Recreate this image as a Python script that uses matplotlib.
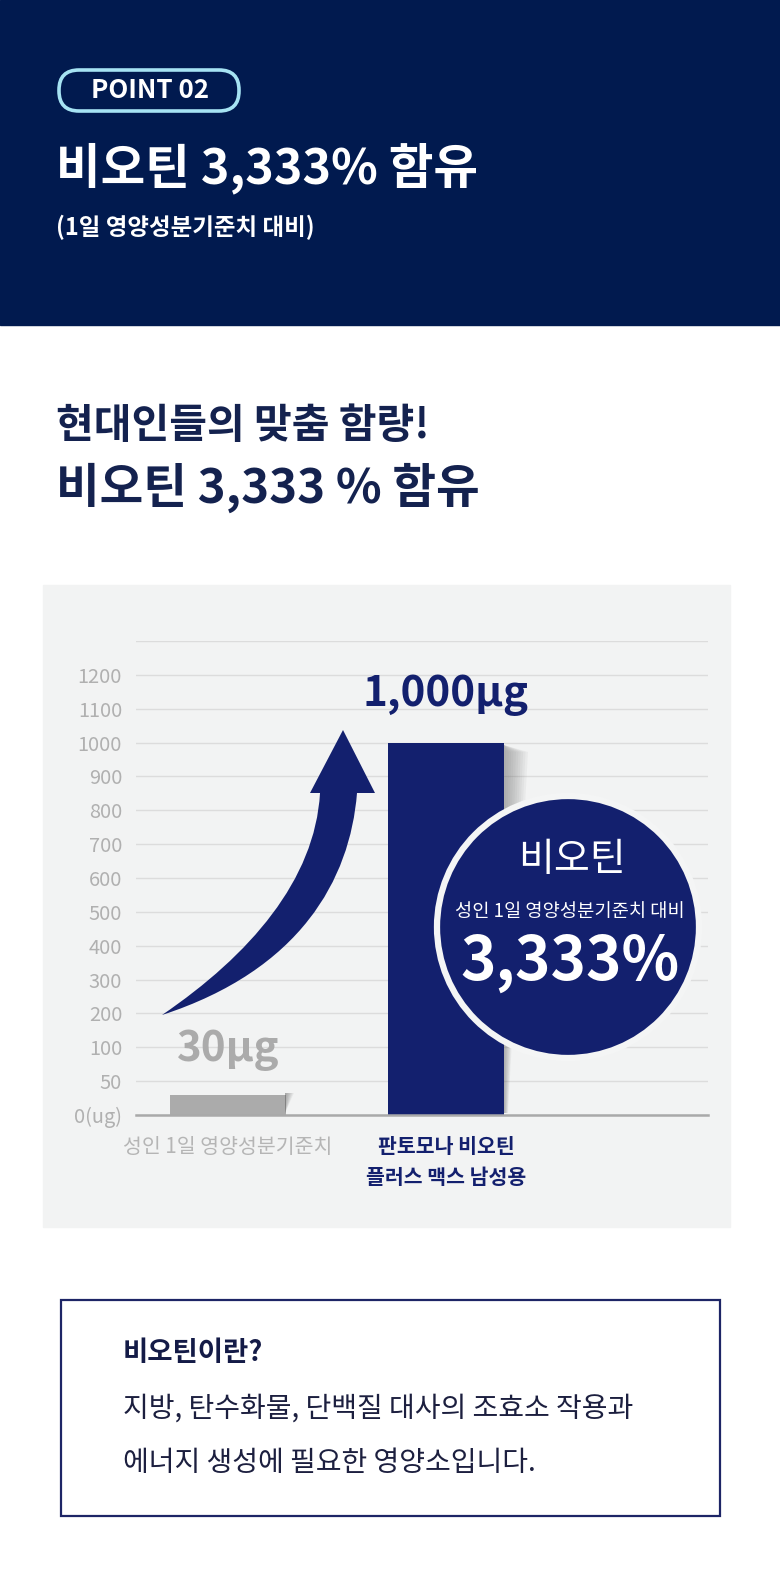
import numpy as np
import matplotlib
matplotlib.use('Agg')
import matplotlib.pyplot as plt
import matplotlib.patches as mpatches
import matplotlib.transforms as mtransforms
from matplotlib.path import Path

plt.rcParams['font.family'] = ['Noto Sans CJK KR', 'DejaVu Sans']

# data
categories = ['성인 1일 영양성분기준치', '판토모나 비오틴\n플러스 맥스 남성용']
values = [30, 1000]
value_labels = ['30μg', '1,000μg']
tick_vals = [0, 50, 100, 200, 300, 400, 500, 600, 700, 800, 900, 1000, 1100, 1200, 1300]
tick_labels = ['0(ug)', '50', '100', '200', '300', '400', '500', '600', '700', '800',
               '900', '1000', '1100', '1200', '']

NAVY = '#13206e'
DARK = '#011a4f'
TEXT_NAVY = '#14224f'
GRAY = '#ababab'

W, H = 780, 1594
fig = plt.figure(figsize=(W / 100, H / 100), dpi=100)
fig.patch.set_facecolor('white')
# pixel coords, origin top-left
T = mtransforms.Affine2D().scale(1, -1).translate(0, H)


def rect(x0, y0, x1, y1, **kw):
    p = mpatches.Rectangle((x0, y1), x1 - x0, y0 - y1, transform=T, **kw)
    fig.add_artist(p)
    return p


def txt(x, y, s, size_px, **kw):
    return fig.text(x, y, s, transform=T, fontsize=size_px * 0.72, **kw)


# header banner
rect(0, 0, W, 325, color=DARK, zorder=-5)
pill = mpatches.FancyBboxPatch((59, H - 111), 180, 41, boxstyle='round,pad=0,rounding_size=20',
                               transform=mtransforms.IdentityTransform(),
                               facecolor=DARK, edgecolor='#a6e3f3', lw=2.6, zorder=2)
fig.add_artist(pill)
txt(150, 90, 'POINT 02', 26, color='white', weight='bold', ha='center', va='center', zorder=3)
txt(56, 168, '비오틴 3,333% 함유', 48.5, color='white', weight='bold', ha='left', va='center')
txt(56, 227, '(1일 영양성분기준치 대비)', 23.5, color='white', weight='bold', ha='left', va='center')

# section heading
txt(56, 426, '현대인들의 맞춤 함량!', 41, color=TEXT_NAVY, weight='bold', ha='left', va='center')
txt(56, 488, '비오틴 3,333 % 함유', 47.5, color=TEXT_NAVY, weight='bold', ha='left', va='center')

# chart panel
rect(43, 585, 730, 1227, color='#f2f3f3', zorder=-5)

ax = fig.add_axes([136 / W, (H - 1115) / H, 572 / W, (1115 - 641) / H])
ax.set_facecolor('none')
pos = np.arange(len(tick_vals))
ax.set_yscale('function', functions=(lambda v: np.interp(v, tick_vals, pos),
                                     lambda p: np.interp(p, pos, tick_vals)))
ax.set_ylim(0, 1300)
ax.set_xlim(-0.422, 2.202)
ax.set_yticks(tick_vals)
ax.set_yticklabels(tick_labels)
ax.yaxis.grid(True, color='#dcdcdc', lw=1.0)
ax.set_axisbelow(True)
for s in ['left', 'right', 'top']:
    ax.spines[s].set_visible(False)
ax.spines['bottom'].set_color('#a9a9a9')
ax.spines['bottom'].set_linewidth(1.8)
ax.spines['bottom'].set_zorder(4)
ax.tick_params(axis='y', length=0, pad=10, labelsize=20 * 0.72, labelcolor='#b0b0b0')

xs = np.arange(len(values))
ax.bar(xs, values, width=0.532, color=[GRAY, NAVY], zorder=3)
ax.set_xticks(xs)
ax.set_xticklabels(categories)
ax.tick_params(axis='x', length=0, pad=15, labelsize=20.5 * 0.72)
for lab, c, w in zip(ax.get_xticklabels(), ['#b5b5b5', NAVY], ['normal', 'bold']):
    lab.set_color(c)
    lab.set_fontweight(w)
    lab.set_linespacing(1.6)

for x, v, s, c, off in zip(xs, values, value_labels, [GRAY, NAVY], [24, 26]):
    ax.annotate(s, (x, v), xytext=(0, off), textcoords='offset points', ha='center',
                va='baseline', fontsize=42 * 0.72, weight='bold', color=c)

# soft shadows right of the bars
for i in range(10):
    k = (i + 1) / 10
    p = mpatches.Polygon([(504, 745), (504 + 24 * k, 752), (504 + 4 * k, 1113), (504, 1113)],
                         closed=True, transform=T, color='#555555', alpha=0.05, lw=0, zorder=1)
    fig.add_artist(p)
    p = mpatches.Polygon([(285, 1093), (285 + 9 * k, 1093), (285, 1113)],
                         closed=True, transform=T, color='#555555', alpha=0.06, lw=0, zorder=1)
    fig.add_artist(p)

# curved arrow
verts = [(162, 1015),
         (300, 970), (350, 880), (357, 793),
         (375, 793), (343, 730), (310, 793), (320, 793),
         (315, 880), (250, 955), (162, 1015),
         (162, 1015)]
codes = [Path.MOVETO,
         Path.CURVE4, Path.CURVE4, Path.CURVE4,
         Path.LINETO, Path.LINETO, Path.LINETO, Path.LINETO,
         Path.CURVE4, Path.CURVE4, Path.CURVE4,
         Path.CLOSEPOLY]
fig.add_artist(mpatches.PathPatch(Path(verts, codes), transform=T, facecolor=NAVY, lw=0, zorder=2))

# badge circle
fig.add_artist(mpatches.Circle((568, 927), 131, transform=T, facecolor=NAVY,
                               edgecolor='#f4f5f5', lw=4.5, zorder=5))
txt(572, 860, '비오틴', 39, color='white', ha='center', va='center', zorder=6)
txt(570, 911, '성인 1일 영양성분기준치 대비', 18.7, color='white', ha='center', va='center', zorder=6)
txt(570, 962, '3,333%', 60, color='white', weight='bold', ha='center', va='center', zorder=6)

# info box
rect(61, 1300, 720, 1516, facecolor='white', edgecolor='#1d2566', lw=1.6, zorder=1)
txt(123, 1353, '비오틴이란?', 27.5, color='#141b47', weight='bold', ha='left', va='center', zorder=2)
txt(123, 1409, '지방, 탄수화물, 단백질 대사의 조효소 작용과', 28, color='#1c1f3f',
    ha='left', va='center', zorder=2)
txt(123, 1463, '에너지 생성에 필요한 영양소입니다.', 28, color='#1c1f3f',
    ha='left', va='center', zorder=2)

fig.savefig('out.png', dpi=100)
